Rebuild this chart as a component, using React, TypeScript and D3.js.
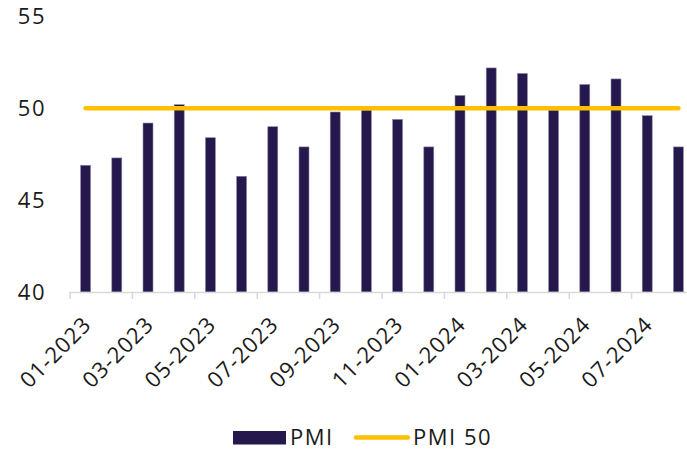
import React from "react";
import * as d3 from "d3";

const months = [
  "01-2023", "02-2023", "03-2023", "04-2023", "05-2023", "06-2023",
  "07-2023", "08-2023", "09-2023", "10-2023", "11-2023", "12-2023",
  "01-2024", "02-2024", "03-2024", "04-2024", "05-2024", "06-2024",
  "07-2024", "08-2024",
];
const pmi = [
  46.9, 47.3, 49.2, 50.2, 48.4, 46.3, 49.0, 47.9, 49.8, 49.9,
  49.4, 47.9, 50.7, 52.2, 51.9, 49.9, 51.3, 51.6, 49.6, 47.9,
];
const threshold = 50;
const yTicks = [40, 45, 50, 55];

const W = 687;
const H = 451;
const FONT = "'Open Sans', sans-serif";
const BAR = "#25184d";
const GOLD = "#ffc000";
const AXIS = "#d9d9d9";

export default function App() {
  const x = d3
    .scaleBand<string>()
    .domain(months)
    .range([70, 694])
    .paddingInner(0.68)
    .paddingOuter(0.34);
  const step = x.step();
  const y = d3.scaleLinear().domain([40, 55]).range([292, 16.5]);

  const center = (m: string) => (x(m) as number) + x.bandwidth() / 2;
  const linePath = d3
    .line<string>()
    .x((m) => center(m))
    .y(() => y(threshold))([months[0], months[months.length - 1]]);

  const tickXs = d3.range(0, months.length + 1, 2).map((i) => 70 + i * step);

  return (
    <svg
      width={W}
      height={H}
      style={{ position: "absolute", left: 0, top: 0, background: "#fff" }}
      fontFamily={FONT}
    >
      {/* y-axis labels */}
      {yTicks.map((t) => (
        <text
          key={t}
          x={46}
          y={y(t)}
          dy="0.36em"
          textAnchor="end"
          fontSize={22}
          letterSpacing={1.5}
          fill="#1a1a1a"
        >
          {t}
        </text>
      ))}

      {/* bars */}
      {months.map((m, i) => (
        <rect
          key={m}
          x={x(m)}
          y={y(pmi[i])}
          width={x.bandwidth()}
          height={y(40) - y(pmi[i])}
          fill={BAR}
          stroke="#8f88a8"
          strokeWidth={0.6}
        />
      ))}

      {/* x axis */}
      <line x1={69} x2={W} y1={292.5} y2={292.5} stroke={AXIS} strokeWidth={1.5} />
      {tickXs.map((tx) => (
        <line key={tx} x1={tx} x2={tx} y1={292} y2={299} stroke={AXIS} strokeWidth={1.5} />
      ))}

      {/* 50 threshold */}
      <path d={linePath ?? ""} stroke={GOLD} strokeWidth={4.5} strokeLinecap="round" fill="none" />

      {/* x labels */}
      {months.map((m, i) =>
        i % 2 === 0 ? (
          <text
            key={m}
            transform={`translate(${center(m) + 7},${326}) rotate(-45)`}
            textAnchor="end"
            fontSize={22}
            letterSpacing={1}
            fill="#1a1a1a"
          >
            {m}
          </text>
        ) : null
      )}

      {/* legend */}
      <rect x={233} y={431} width={53} height={13.5} fill={BAR} />
      <text x={290} y={445} fontSize={22} letterSpacing={1.5} fill="#1a1a1a">PMI</text>
      <line x1={356} x2={408} y1={437.5} y2={437.5} stroke={GOLD} strokeWidth={4.5} strokeLinecap="round" />
      <text x={413} y={445} fontSize={22} letterSpacing={1.5} fill="#1a1a1a">PMI 50</text>
    </svg>
  );
}
